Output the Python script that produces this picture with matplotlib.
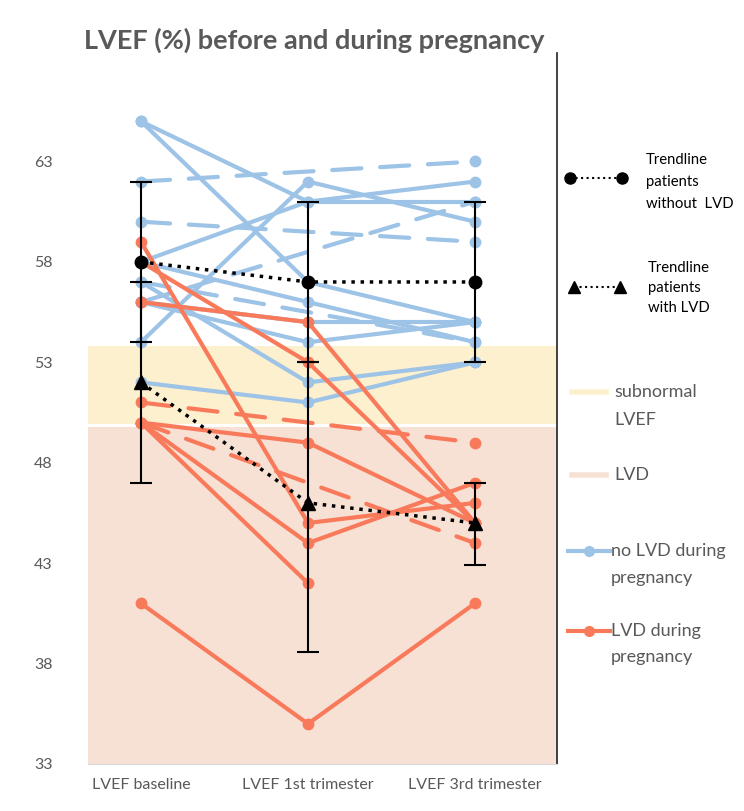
import numpy as np
import matplotlib.pyplot as plt

plt.rcParams['font.family'] = ['Lato', 'DejaVu Sans']

timepoints = ["LVEF baseline", "LVEF 1st trimester", "LVEF 3rd trimester"]

# LVEF per patient: baseline, 1st trimester, 3rd trimester (nan = missing -> dashed gap)
no_lvd = [
    [65, 61, 61],
    [65, 57, 55],
    [62, np.nan, 63],
    [60, np.nan, 59],
    [58, 61, 62],
    [57, np.nan, 54],
    [56, np.nan, 61],
    [54, 62, 60],
    [58, 56, 54],
    [56, 55, 55],
    [56, 54, 55],
    [57, 52, 53],
    [52, 51, 53],
]
lvd = [
    [59, 45, 46],
    [58, 53, 45],
    [56, 55, 45],
    [51, np.nan, 49],
    [50, 49, 45],
    [50, np.nan, 44],
    [50, 44, 47],
    [50, 42, np.nan],
    [41, 35, 41],
]

# trendlines (mean +/- error)
mean_no_lvd = [58, 57, 57]
err_no_lvd = [4, 4, 4]
mean_lvd = [52, 46, 45]
err_lvd_low = [5, 7.4, 2.1]
err_lvd_high = [5, 7, 2]

subnormal_band = (49.95, 53.8)
lvd_band = (33, 49.8)

blue = '#9dc3e6'
orange = '#f97a5b'
grey = '#595959'

fig = plt.figure(figsize=(7.44, 8.11), dpi=100)
ax = fig.add_axes([88 / 744, 47 / 811, (557 - 88) / 744, (764 - 53) / 811])

x = np.arange(len(timepoints))

ax.axhspan(*lvd_band, color='#f7e1d5', lw=0, zorder=0)
ax.axhspan(*subnormal_band, color='#fdf0cf', lw=0, zorder=0)


def draw_patient(vals, color):
    vals = np.array(vals, dtype=float)
    idx = np.where(~np.isnan(vals))[0]
    for a, b in zip(idx[:-1], idx[1:]):
        if b - a == 1:
            ax.plot(x[[a, b]], vals[[a, b]], color=color, lw=3,
                    solid_capstyle='round', zorder=2)
        else:
            ax.plot(x[[a, b]], vals[[a, b]], color=color, lw=3,
                    ls=(0, (7, 4.5)), dash_capstyle='round', zorder=2)
    ax.plot(x[idx], vals[idx], color=color, lw=0, marker='o', ms=7.5, zorder=2)


for p in no_lvd:
    draw_patient(p, blue)
for p in lvd:
    draw_patient(p, orange)

ax.errorbar(x, mean_no_lvd, yerr=err_no_lvd, color='black', lw=2.5, ls=':',
            marker='o', ms=9, ecolor='black', elinewidth=1.5, capsize=8,
            capthick=1.5, zorder=5)
ax.errorbar(x, mean_lvd, yerr=[err_lvd_low, err_lvd_high], color='black', lw=2.5,
            ls=':', marker='^', ms=10, ecolor='black', elinewidth=1.5, capsize=8,
            capthick=1.5, zorder=5)

ax.set_xlim(-0.317, 2.491)
ax.set_ylim(33, 68.4)
ax.set_yticks(np.arange(33, 64, 5))
ax.set_xticks(x)
ax.set_xticklabels(timepoints)
ax.tick_params(length=0, colors=grey, labelsize=11.5, pad=10)
ax.tick_params(axis='y', pad=32)
for lbl in ax.get_yticklabels():
    lbl.set_horizontalalignment('center')
for s in ['top', 'left']:
    ax.spines[s].set_visible(False)
ax.spines['bottom'].set_color('#d9d9d9')
ax.spines['right'].set_color('#222222')
ax.spines['right'].set_linewidth(1.2)

fig.text(314 / 744, 1 - 40 / 811, "LVEF (%) before and during pregnancy",
         ha='center', va='center', fontsize=19.5, fontweight='bold', color=grey)

# legend drawn in pixel coordinates on the right
lax = fig.add_axes([560 / 744, 0, 184 / 744, 1])
lax.set_xlim(560, 744)
lax.set_ylim(811, 0)
lax.axis('off')

lax.plot([570, 622], [178, 178], color='black', ls=':', lw=1.5, marker='o', ms=8)
for i, t in enumerate(["Trendline", "patients", "without  LVD"]):
    lax.text(646, 160 + 22 * i, t, fontsize=10.7, va='center', color='black')
lax.plot([574, 620], [287, 287], color='black', ls=':', lw=1.5, marker='^', ms=8)
for i, t in enumerate(["Trendline", "patients", "with LVD"]):
    lax.text(648, 268 + 20 * i, t, fontsize=10.7, va='center', color='black')

lax.plot([572, 606], [392, 392], color='#fdf0cf', lw=4)
lax.text(614, 392, "subnormal", fontsize=13, va='center', color=grey)
lax.text(614, 420, "LVEF", fontsize=13, va='center', color=grey)
lax.plot([572, 606], [475, 475], color='#f7e1d5', lw=4)
lax.text(614, 475, "LVD", fontsize=13, va='center', color=grey)

lax.plot([568, 610], [551, 551], color=blue, lw=3)
lax.plot([589], [551], color=blue, marker='o', ms=7)
lax.text(611, 551, "no LVD during", fontsize=13, va='center', color=grey)
lax.text(611, 578, "pregnancy", fontsize=13, va='center', color=grey)
lax.plot([568, 610], [631, 631], color=orange, lw=3)
lax.plot([589], [631], color=orange, marker='o', ms=7)
lax.text(611, 631, "LVD during", fontsize=13, va='center', color=grey)
lax.text(611, 657, "pregnancy", fontsize=13, va='center', color=grey)

fig.savefig('out.png', dpi=100)
